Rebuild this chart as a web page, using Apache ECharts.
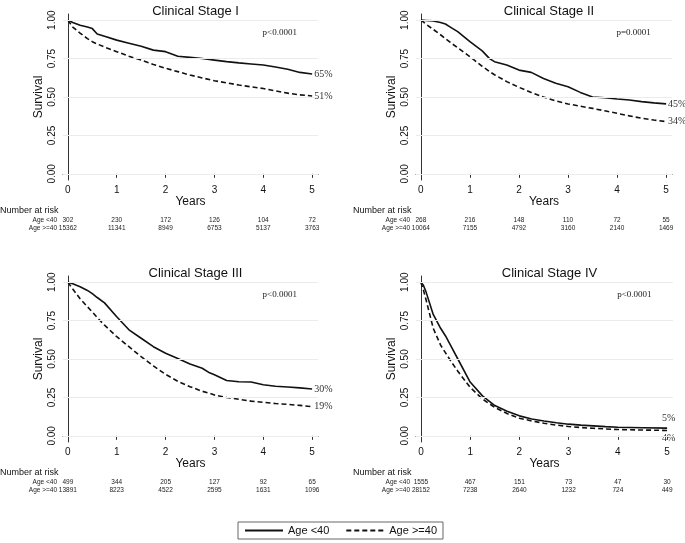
<!DOCTYPE html>
<html>
<head>
<meta charset="utf-8">
<script src="https://cdn.jsdelivr.net/npm/echarts@6/dist/echarts.min.js"></script>
<style>
  html, body { margin: 0; padding: 0; background: #fff; }
  #chart { width: 685px; height: 543px; }
</style>
</head>
<body>
<div id="chart"></div>
<script>
// survival curves (years -> survival)
const s1Years = [0, 0.1, 0.25, 0.4, 0.5, 0.6, 0.75, 1, 1.25, 1.5, 1.75, 2, 2.25, 2.5, 2.75, 3, 3.25, 3.5, 3.75, 4, 4.25, 4.5, 4.75, 5];
const s1Young = [1, 0.985, 0.967, 0.955, 0.945, 0.91, 0.895, 0.87, 0.85, 0.83, 0.805, 0.795, 0.765, 0.758, 0.75, 0.74, 0.73, 0.722, 0.715, 0.708, 0.695, 0.68, 0.66, 0.65];
const s1Old = [1, 0.955, 0.915, 0.88, 0.86, 0.845, 0.825, 0.795, 0.765, 0.74, 0.712, 0.687, 0.665, 0.643, 0.624, 0.606, 0.592, 0.578, 0.566, 0.555, 0.54, 0.525, 0.514, 0.507];

const s2Years = [0, 0.1, 0.25, 0.4, 0.5, 0.6, 0.75, 1, 1.25, 1.4, 1.5, 1.75, 2, 2.25, 2.5, 2.75, 3, 3.25, 3.5, 3.75, 4, 4.25, 4.5, 4.75, 5];
const s2Young = [1, 0.998, 0.995, 0.985, 0.975, 0.955, 0.925, 0.86, 0.8, 0.75, 0.73, 0.708, 0.675, 0.66, 0.62, 0.59, 0.567, 0.53, 0.5, 0.495, 0.487, 0.48, 0.47, 0.462, 0.455];
const s2Old = [1, 0.975, 0.94, 0.905, 0.88, 0.855, 0.82, 0.762, 0.7, 0.665, 0.645, 0.6, 0.563, 0.53, 0.5, 0.475, 0.455, 0.44, 0.426, 0.41, 0.394, 0.377, 0.362, 0.35, 0.34];

const s3Years = [0, 0.1, 0.25, 0.4, 0.5, 0.6, 0.75, 1, 1.25, 1.5, 1.75, 2, 2.25, 2.5, 2.75, 2.9, 3, 3.25, 3.5, 3.75, 4, 4.25, 4.5, 4.75, 5];
const s3Young = [1, 0.99, 0.97, 0.946, 0.925, 0.9, 0.865, 0.775, 0.69, 0.635, 0.58, 0.537, 0.503, 0.467, 0.44, 0.41, 0.397, 0.36, 0.352, 0.35, 0.332, 0.323, 0.318, 0.312, 0.305];
const s3Old = [1, 0.955, 0.892, 0.84, 0.806, 0.77, 0.72, 0.645, 0.58, 0.515, 0.455, 0.4, 0.355, 0.32, 0.29, 0.277, 0.266, 0.25, 0.238, 0.226, 0.218, 0.21, 0.205, 0.198, 0.19];

const s4Years = [0, 0.05, 0.1, 0.25, 0.4, 0.5, 0.6, 0.75, 1, 1.25, 1.5, 1.75, 2, 2.25, 2.5, 2.75, 3, 3.25, 3.5, 3.75, 4, 4.5, 5];
const s4Young = [1, 0.98, 0.94, 0.79, 0.7, 0.65, 0.59, 0.5, 0.35, 0.26, 0.197, 0.16, 0.13, 0.11, 0.097, 0.085, 0.076, 0.07, 0.065, 0.06, 0.056, 0.053, 0.05];
const s4Old = [1, 0.95, 0.89, 0.7, 0.59, 0.54, 0.49, 0.42, 0.315, 0.24, 0.185, 0.145, 0.115, 0.097, 0.082, 0.07, 0.061, 0.054, 0.049, 0.045, 0.041, 0.038, 0.035];

// number at risk at years 0..5
const risk1Young = [302, 230, 172, 126, 104, 72];
const risk1Old = [15362, 11341, 8949, 6753, 5137, 3763];
const risk2Young = [268, 216, 148, 110, 72, 55];
const risk2Old = [10064, 7155, 4792, 3160, 2140, 1469];
const risk3Young = [499, 344, 205, 127, 92, 65];
const risk3Old = [13891, 8223, 4522, 2595, 1631, 1096];
const risk4Young = [1555, 467, 151, 73, 47, 30];
const risk4Old = [28152, 7238, 2640, 1232, 724, 449];

const titles = ['Clinical Stage I', 'Clinical Stage II', 'Clinical Stage III', 'Clinical Stage IV'];
const pValues = ['p<0.0001', 'p=0.0001', 'p<0.0001', 'p<0.0001'];
const endYoung = ['65%', '45%', '30%', '5%'];
const endOld = ['51%', '34%', '19%', '4%'];
const yearTicks = [0, 1, 2, 3, 4, 5];
const survTicks = [0, 0.25, 0.5, 0.75, 1];

const sans = 'Arial, "Liberation Sans", sans-serif';
const serif = '"Times New Roman", "Liberation Serif", serif';

const panels = [
  { left: 63, top: 14, width: 255, years: s1Years, young: s1Young, old: s1Old, rYoung: risk1Young, rOld: risk1Old },
  { left: 416, top: 14, width: 256, years: s2Years, young: s2Young, old: s2Old, rYoung: risk2Young, rOld: risk2Old },
  { left: 63, top: 276, width: 255, years: s3Years, young: s3Young, old: s3Old, rYoung: risk3Young, rOld: risk3Old },
  { left: 416, top: 276, width: 257, years: s4Years, young: s4Young, old: s4Old, rYoung: risk4Young, rOld: risk4Old }
];
const gridH = 166;

const chart = echarts.init(document.getElementById('chart'));

const grid = [], xAxis = [], yAxis = [], series = [], title = [], graphic = [];

panels.forEach((p, i) => {
  grid.push({ left: p.left, top: p.top, width: p.width, height: gridH });
  title.push({
    text: titles[i], left: p.left + p.width / 2, top: p.top - 14, textAlign: 'center',
    textStyle: { fontFamily: sans, fontSize: 13, fontWeight: 'normal', color: '#111' }
  });

  // main x axis
  xAxis.push({
    type: 'value', gridIndex: i, min: -0.1, max: 5.12,
    name: 'Years', nameLocation: 'middle', nameGap: 13,
    nameTextStyle: { fontFamily: sans, fontSize: 12, color: '#111' },
    axisLine: { lineStyle: { color: '#333', width: 1 } },
    axisTick: { length: 4, customValues: yearTicks, lineStyle: { color: '#333' } },
    axisLabel: { customValues: yearTicks, margin: 5, fontFamily: sans, fontSize: 10, color: '#111' },
    splitLine: { show: false }
  });
  // risk rows, drawn on the same scale as the years axis
  [p.rYoung, p.rOld].forEach((arr, k) => {
    xAxis.push({
      type: 'value', gridIndex: i, min: -0.1, max: 5.12, position: 'bottom', offset: 37 + k * 8,
      axisLine: { show: false }, axisTick: { show: false }, splitLine: { show: false },
      axisLabel: {
        customValues: yearTicks, margin: 0, fontFamily: sans, fontSize: 6.5, color: '#222',
        formatter: v => String(arr[Math.round(v)])
      }
    });
  });

  yAxis.push({
    type: 'value', gridIndex: i, min: -0.04, max: 1.04,
    name: 'Survival', nameLocation: 'middle', nameGap: 18,
    nameTextStyle: { fontFamily: sans, fontSize: 12, color: '#111' },
    axisLine: { show: true, lineStyle: { color: '#333', width: 1 } },
    axisTick: { show: true, length: 4, customValues: survTicks, lineStyle: { color: '#333' } },
    axisLabel: {
      customValues: survTicks, rotate: 90, margin: 6, fontFamily: sans, fontSize: 10, color: '#111',
      formatter: v => v.toFixed(2)
    },
    splitLine: { show: false }
  });

  const xi = i * 3;
  const isIV = i === 3;
  series.push({
    name: 'Age <40', type: 'line', xAxisIndex: xi, yAxisIndex: i,
    data: p.years.map((t, j) => [t, p.young[j]]),
    symbol: 'none', lineStyle: { color: '#111', width: 1.6 }, itemStyle: { color: '#111' },
    endLabel: {
      show: true, formatter: endYoung[i], fontFamily: serif, fontSize: 10, color: '#333',
      distance: 2, offset: isIV ? [-7, -10] : [0, 0]
    },
    markLine: {
      silent: true, symbol: 'none', animation: false, label: { show: false },
      lineStyle: { color: '#ececec', type: 'solid', width: 1 },
      data: survTicks.map(v => ({ yAxis: v }))
    },
    z: 3
  });
  series.push({
    name: 'Age >=40', type: 'line', xAxisIndex: xi, yAxisIndex: i,
    data: p.years.map((t, j) => [t, p.old[j]]),
    symbol: 'none', lineStyle: { color: '#111', width: 1.6, type: [5, 3] }, itemStyle: { color: '#111' },
    endLabel: {
      show: true, formatter: endOld[i], fontFamily: serif, fontSize: 10, color: '#333',
      distance: 2, offset: isIV ? [-7, 8] : [0, 0]
    },
    z: 3
  });

  // annotations
  graphic.push({
    type: 'text', x: p.left + p.width * 0.85, y: p.top + 19,
    style: { text: pValues[i], font: '9px ' + serif, fill: '#222', textAlign: 'center', textVerticalAlign: 'middle' }
  });
  const base = p.top + gridH;
  const rx = i % 2 === 0 ? 0 : 353;
  graphic.push({
    type: 'text', x: rx, y: base + 31,
    style: { text: 'Number at risk', font: '9px ' + sans, fill: '#111', textVerticalAlign: 'middle' }
  });
  graphic.push({
    type: 'text', x: p.left - 6, y: base + 40.5,
    style: { text: 'Age <40', font: '6.5px ' + sans, fill: '#222', textAlign: 'right', textVerticalAlign: 'middle' }
  });
  graphic.push({
    type: 'text', x: p.left - 6, y: base + 48.5,
    style: { text: 'Age >=40', font: '6.5px ' + sans, fill: '#222', textAlign: 'right', textVerticalAlign: 'middle' }
  });
});

chart.setOption({
  backgroundColor: '#fff',
  animation: false,
  title: title,
  grid: grid,
  xAxis: xAxis,
  yAxis: yAxis,
  series: series,
  graphic: graphic,
  legend: {
    data: ['Age <40', 'Age >=40'],
    left: 238, top: 522,
    padding: [3, 6],
    itemWidth: 38, itemHeight: 10, itemGap: 16,
    borderColor: '#666', borderWidth: 1,
    selectedMode: false,
    itemStyle: { opacity: 0 },
    textStyle: { fontFamily: sans, fontSize: 11, color: '#111' }
  }
});
</script>
</body>
</html>
